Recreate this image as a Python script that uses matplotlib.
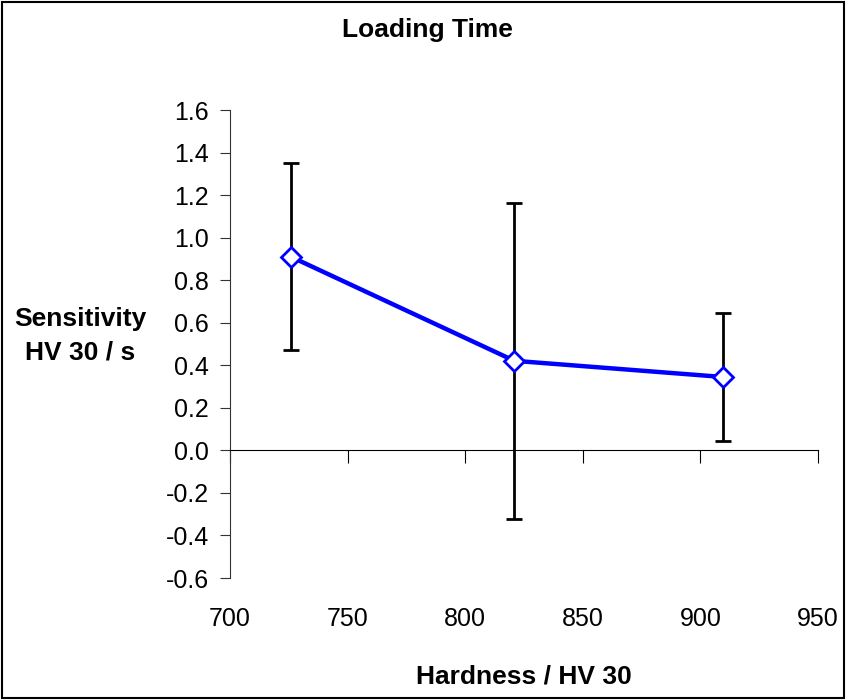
"""Loading time sensitivity vs hardness."""

import matplotlib

matplotlib.use("Agg")
import matplotlib.pyplot as plt
from matplotlib.patches import Rectangle

plt.rcParams["font.family"] = ["Liberation Sans", "DejaVu Sans"]

hardness = [725.9, 820.9, 909.5]
sensitivity = [0.910, 0.421, 0.345]
sens_err = [0.439, 0.744, 0.299]

x_ticks = [700, 750, 800, 850, 900, 950]
y_ticks = [-0.6, -0.4, -0.2, 0.0, 0.2, 0.4, 0.6, 0.8, 1.0, 1.2, 1.4, 1.6]

fig = plt.figure(figsize=(8.46, 7.0), dpi=100)
ax = fig.add_axes([230 / 846, 1 - 578 / 700, 588 / 846, 468 / 700])

ax.errorbar(hardness, sensitivity, yerr=sens_err, fmt="none", ecolor="black",
            elinewidth=2, capsize=6, capthick=2, zorder=2)
ax.plot(hardness, sensitivity, color="#0000ff", linewidth=3.2, marker="D",
        markersize=10, markerfacecolor="white", markeredgecolor="#0000ff",
        markeredgewidth=2, zorder=3)

ax.set_xlim(700, 950)
ax.set_ylim(-0.6, 1.6)
ax.set_yticks(y_ticks)
ax.set_yticklabels([f"{v:.1f}" for v in y_ticks])
ax.set_xticks(x_ticks)

for side in ("top", "right"):
    ax.spines[side].set_visible(False)
ax.spines["left"].set_color("#333333")
ax.spines["bottom"].set_position(("data", 0))
ax.spines["bottom"].set_color("black")
ax.tick_params(axis="y", direction="out", length=7, color="#333333", labelsize=18, pad=8)
ax.tick_params(axis="x", direction="out", length=9, labelbottom=False)

# tick labels sit at the bottom of the plot, the axis line crosses at zero
sec = ax.secondary_xaxis("bottom")
sec.set_xticks(x_ticks)
sec.spines["bottom"].set_visible(False)
sec.tick_params(length=0, labelsize=18, pad=21)

fig.text(427 / 846, 1 - 30 / 700, "Loading Time", ha="center", va="center",
         fontsize=19, fontweight="bold")
fig.text(80 / 846, 1 - 336 / 700, "Sensitivity\nHV 30 / s", ha="center", va="center",
         fontsize=19, fontweight="bold", linespacing=1.5)
fig.text(524 / 846, 1 - 677 / 700, "Hardness / HV 30", ha="center", va="center",
         fontsize=19, fontweight="bold")

fig.patches.append(Rectangle((2 / 846, 2 / 700), 842 / 846, 696 / 700, transform=fig.transFigure,
                             fill=False, edgecolor="black", linewidth=1.5))

fig.savefig("out.png", dpi=100)
plt.close(fig)
